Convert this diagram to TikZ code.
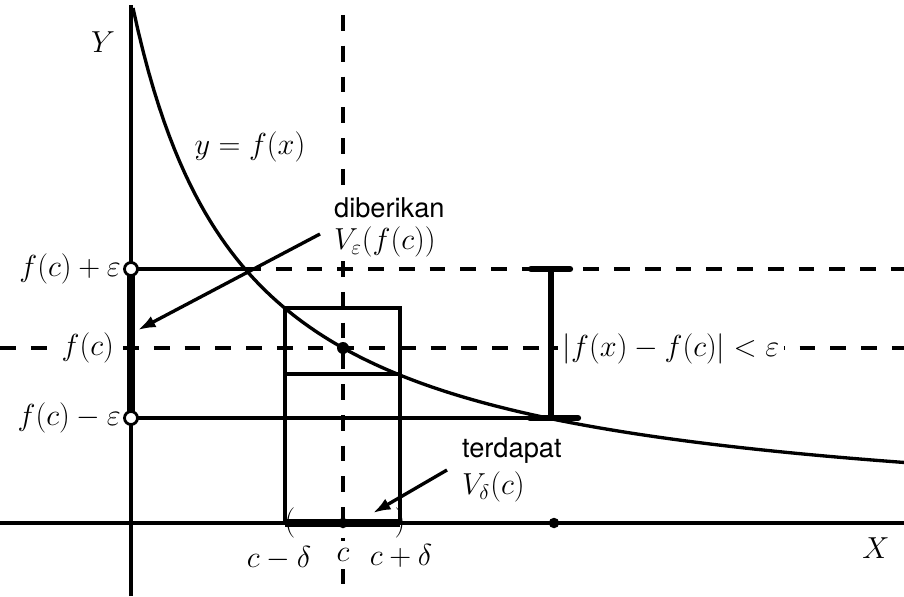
\documentclass[tikz,border=0pt]{standalone}
\usepackage{fontspec}
\setsansfont{TeX Gyre Heros}
\usetikzlibrary{arrows.meta}
\begin{document}
\begin{tikzpicture}[
  axis/.style={line width=2.2pt},
  edge/.style={line width=1.9pt},
  level/.style={line width=2.3pt, dash pattern=on 9pt off 8.5pt},
  heavy/.style={line width=4.4pt},
  lbl/.style={font=\fontsize{17}{20}\selectfont, inner sep=1pt},
  brk/.style={font=\fontsize{18}{20}\selectfont, inner sep=0pt},
  word/.style={font=\sffamily\fontsize{15.5}{18}\selectfont, inner sep=1pt, anchor=west},
  dot/.style={circle, fill, inner sep=0pt, minimum size=2.4mm},
  hole/.style={circle, draw, fill=white, line width=1.6pt, inner sep=0pt, minimum size=2.6mm},
  pointer/.style={-{Latex[length=10pt, width=7pt]}, line width=1.9pt}
]
  \useasboundingbox (-2.62,-1.46) rectangle (15.46,10.46);

  % Axes
  \draw[axis] (-2.62,0) -- (15.46,0);
  \draw[axis] (0,-1.46) -- (0,10.36);
  \node[lbl] (ylbl) at (-0.56,9.62) {$Y$};
  \node[lbl] (xlbl) at (14.9,-0.5) {$X$};

  % Levels f(c)+eps, f(c), f(c)-eps
  \coordinate (fcp) at (0,5.08);
  \coordinate (fc) at (0,3.5);
  \coordinate (fcm) at (0,2.1);
  \coordinate (hitp) at (2.28,5.08);
  \coordinate (capm) at (8.94,2.1);
  \draw[level] (hitp) -- (15.46,5.08);
  \draw[level] (-2.62,3.5) -- (15.46,3.5);
  \draw[edge] (fcp) -- (hitp);
  \draw[edge] (fcm) -- (capm);

  % x = c
  \draw[level] (4.24,10.16) -- (4.24,-1.46);

  % Curve
  \draw[line width=1.9pt] plot[domain=0.04:15.46, samples=150]
    (\x, {23.13/(\x+2.184)-0.1});
  \node[lbl] (curve) at (2.38,7.52) {$y=f(x)$};

  % Box round c
  \draw[edge] (3.08,0) rectangle (5.38,4.3);
  \draw[edge] (3.08,2.98) -- (5.38,2.98);

  % Neighbourhoods
  \draw[heavy] (fcm) -- (fcp);
  \draw[heavy] (3.08,0) -- (5.38,0);
  \node[brk] (lpar) at (3.18,0) {$($};
  \node[brk] (rpar) at (5.38,0) {$)$};

  % Bar |f(x)-f(c)| < eps
  \draw[heavy, line width=3.6pt] (8.4,2.1) -- (8.4,5.08);
  \draw[heavy, line width=3.6pt, line cap=round] (8.0,5.08) -- (8.78,5.08);
  \draw[heavy, line width=3.6pt, line cap=round] (7.98,2.1) -- (8.94,2.1);
  \node[lbl, fill=white, inner sep=3pt] (diff) at (10.8,3.48) {$|f(x)-f(c)|<\varepsilon$};

  % Points
  \node[dot, minimum size=1.8mm] (pfc) at (fc) {};
  \node[hole] (pfcp) at (fcp) {};
  \node[hole] (pfcm) at (fcm) {};
  \node[dot] (pc) at (4.24,3.5) {};
  \node[dot, minimum size=2.1mm] (xc) at (4.24,0) {};
  \node[dot, minimum size=2.1mm] (xr) at (8.46,0) {};

  % Labels on the axes
  \node[lbl, anchor=east] (lfcp) at (-0.16,5.08) {$f(c)+\varepsilon$};
  \node[lbl, anchor=east, fill=white] (lfc) at (-0.3,3.5) {$f(c)$};
  \node[lbl, anchor=east] (lfcm) at (-0.16,2.1) {$f(c)-\varepsilon$};
  \node[lbl] (lcm) at (2.96,-0.7) {$c-\delta$};
  \node[lbl, fill=white, inner sep=4pt] (lc) at (4.24,-0.64) {$c$};
  \node[lbl] (lcp) at (5.4,-0.66) {$c+\delta$};

  % Annotations
  \node[word, fill=white] (given) at (4.02,6.3) {diberikan};
  \node[lbl, anchor=west, fill=white] (veps) at (4.02,5.62) {$V_\varepsilon(f(c))$};
  \node[word] (exists) at (6.58,1.44) {terdapat};
  \node[lbl, anchor=west] (vdel) at (6.58,0.72) {$V_\delta(c)$};
  \coordinate (fromE) at (3.78,5.78);
  \coordinate (tipE) at (0.14,3.86);
  \coordinate (fromD) at (6.32,1.06);
  \coordinate (tipD) at (4.84,0.2);
  \draw[pointer] (fromE) -- (tipE);
  \draw[pointer] (fromD) -- (tipD);
\end{tikzpicture}
\end{document}
